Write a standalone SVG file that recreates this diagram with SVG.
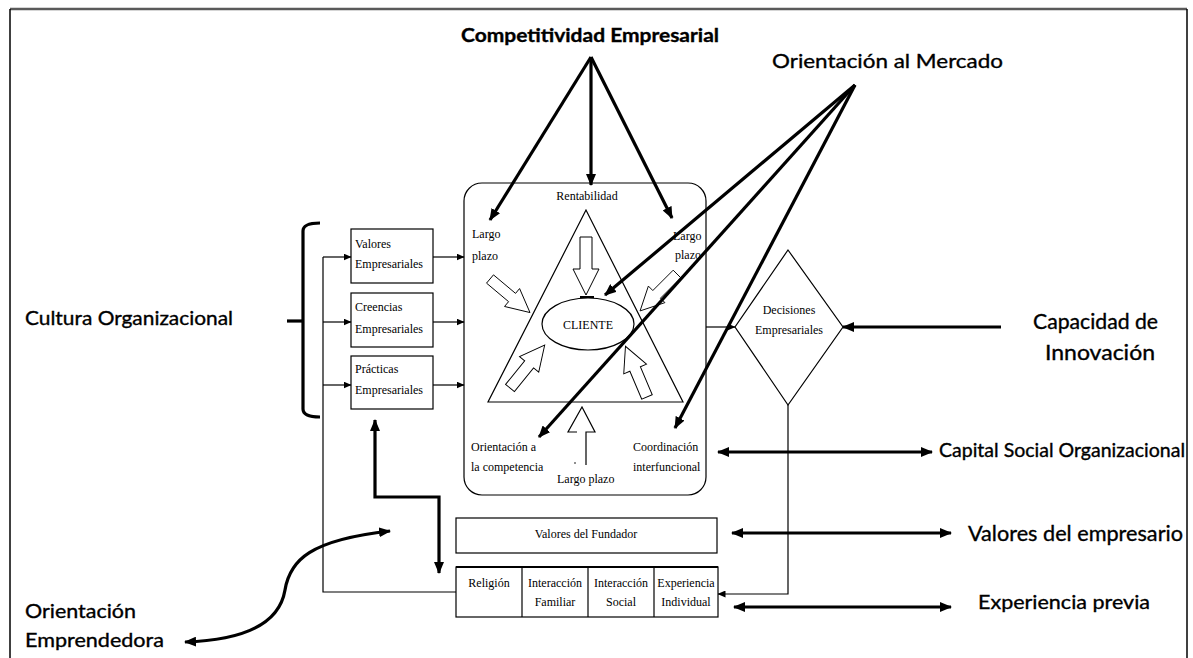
<svg xmlns="http://www.w3.org/2000/svg" width="1193" height="658" viewBox="0 0 1193 658">
  <style>
    .sans { font-family: Lato, "Liberation Sans", sans-serif; fill: #000; stroke: #000; stroke-width: 0.35; }
    .serif { font-family: "Liberation Serif", serif; font-size: 12px; fill: #000; }
    .box { fill: #fff; stroke: #000; stroke-width: 1.2; }
    .thin { fill: none; stroke: #000; stroke-width: 1.2; }
    .thick { fill: none; stroke: #000; stroke-width: 3.2; }
    .blk { fill: #fff; stroke: #000; stroke-width: 1; }
  </style>
  <defs>
    <marker id="ah" viewBox="0 0 12 10" refX="11" refY="5" markerWidth="12" markerHeight="10" markerUnits="userSpaceOnUse" orient="auto-start-reverse">
      <path d="M0,0 L12,5 L0,10 Z" fill="#000"/>
    </marker>
    <marker id="ahs" viewBox="0 0 8 7" refX="7.5" refY="3.5" markerWidth="8" markerHeight="7" markerUnits="userSpaceOnUse" orient="auto-start-reverse">
      <path d="M0,0 L8,3.5 L0,7 Z" fill="#000"/>
    </marker>
    <!-- hollow block arrow pointing along +x, tail at origin -->
    <path id="blkArrow" d="M0,-6 L32,-6 L32,-13 L58,0 L32,13 L32,6 L0,6 Z"/>
  </defs>

  <rect width="1193" height="658" fill="#fff"/>

  <!-- page frame -->
  <g id="frame">
    <line x1="10" y1="9" x2="1187" y2="9" stroke="#5a5a5a" stroke-width="2.5"/>
    <line x1="10" y1="9" x2="10" y2="658" stroke="#000" stroke-width="1.5"/>
    <line x1="1187" y1="9" x2="1187" y2="658" stroke="#000" stroke-width="1.5"/>
  </g>

  <!-- central market-orientation block -->
  <g id="nucleo">
    <rect x="464" y="183" width="242" height="312" rx="18" ry="18" class="box"/>
    <text class="serif" x="587" y="200" text-anchor="middle">Rentabilidad</text>
    <polygon points="586,210 488,402 683,402" class="thin"/>
    <ellipse cx="588" cy="324" rx="46" ry="26" class="thin"/>
    <text class="serif" x="588" y="329" text-anchor="middle">CLIENTE</text>
    <line x1="580" y1="297" x2="594" y2="297" stroke="#000" stroke-width="2"/>
    <use href="#blkArrow" class="blk" transform="translate(586,237) rotate(90)"/>
    <use href="#blkArrow" class="blk" transform="translate(490,279) rotate(40) scale(0.9)"/>
    <use href="#blkArrow" class="blk" transform="translate(677,274) rotate(135) scale(0.9)"/>
    <use href="#blkArrow" class="blk" transform="translate(510,388) rotate(-51) scale(0.95)"/>
    <use href="#blkArrow" class="blk" transform="translate(647,397) rotate(-113) scale(0.95)"/>
    <!-- upward arrow under the base -->
    <polyline points="586,465 586,432 595,432 582,407 568,432 577,432" class="thin" stroke-width="1"/>
    <circle cx="575" cy="463" r="0.8" fill="#000"/>
    <text class="serif" x="472" y="238">Largo</text>
    <text class="serif" x="472" y="260">plazo</text>
    <text class="serif" x="673" y="240">Largo</text>
    <text class="serif" x="675" y="259">plazo</text>
    <text class="serif" x="471" y="451">Orientación a</text>
    <text class="serif" x="471" y="471">la competencia</text>
    <text class="serif" x="557" y="483">Largo plazo</text>
    <text class="serif" x="633" y="451">Coordinación</text>
    <text class="serif" x="633" y="471">interfuncional</text>
  </g>

  <!-- culture boxes -->
  <g id="valores-empresariales">
    <rect x="351" y="229" width="82" height="54" class="box"/>
    <text class="serif" x="355" y="248">Valores</text>
    <text class="serif" x="355" y="268">Empresariales</text>
  </g>
  <g id="creencias-empresariales">
    <rect x="351" y="293" width="82" height="54" class="box"/>
    <text class="serif" x="355" y="311">Creencias</text>
    <text class="serif" x="355" y="333">Empresariales</text>
  </g>
  <g id="practicas-empresariales">
    <rect x="351" y="356" width="82" height="53" class="box"/>
    <text class="serif" x="355" y="373">Prácticas</text>
    <text class="serif" x="355" y="394">Empresariales</text>
  </g>

  <!-- decisions diamond -->
  <g id="decisiones">
    <polygon points="788,250 843,327 788,405 735,327" class="box"/>
    <text class="serif" x="789" y="314" text-anchor="middle">Decisiones</text>
    <text class="serif" x="789" y="334" text-anchor="middle">Empresariales</text>
  </g>

  <!-- founder boxes -->
  <g id="valores-fundador">
    <rect x="456" y="518" width="261" height="35" class="box"/>
    <text class="serif" x="586" y="538" text-anchor="middle">Valores del Fundador</text>
  </g>
  <g id="experiencias">
    <rect x="456" y="567" width="262" height="50" class="box"/>
    <line x1="456" y1="567" x2="718" y2="567" stroke="#000" stroke-width="2.2"/>
    <line x1="522" y1="567" x2="522" y2="617" class="thin"/>
    <line x1="588" y1="567" x2="588" y2="617" class="thin"/>
    <line x1="654" y1="567" x2="654" y2="617" class="thin"/>
    <text class="serif" x="489" y="587" text-anchor="middle">Religión</text>
    <text class="serif" x="555" y="587" text-anchor="middle">Interacción</text>
    <text class="serif" x="555" y="606" text-anchor="middle">Familiar</text>
    <text class="serif" x="621" y="587" text-anchor="middle">Interacción</text>
    <text class="serif" x="621" y="606" text-anchor="middle">Social</text>
    <text class="serif" x="686" y="587" text-anchor="middle">Experiencia</text>
    <text class="serif" x="686" y="606" text-anchor="middle">Individual</text>
  </g>

  <!-- construct labels -->
  <g id="competitividad">
    <text class="sans" x="461" y="42" font-size="19" font-weight="bold" textLength="258" lengthAdjust="spacingAndGlyphs">Competitividad Empresarial</text>
  </g>
  <g id="orientacion-mercado">
    <text class="sans" x="772" y="68" font-size="20" textLength="231" lengthAdjust="spacingAndGlyphs">Orientación al Mercado</text>
  </g>
  <g id="cultura">
    <text class="sans" x="25" y="325" font-size="19" textLength="208" lengthAdjust="spacingAndGlyphs">Cultura Organizacional</text>
  </g>
  <g id="orientacion-emprendedora">
    <text class="sans" x="25" y="618" font-size="19" textLength="111" lengthAdjust="spacingAndGlyphs">Orientación</text>
    <text class="sans" x="25" y="647" font-size="19" textLength="139" lengthAdjust="spacingAndGlyphs">Emprendedora</text>
  </g>
  <g id="capacidad-innovacion">
    <text class="sans" x="1033" y="329" font-size="21" textLength="125" lengthAdjust="spacingAndGlyphs">Capacidad de</text>
    <text class="sans" x="1045" y="360" font-size="21" textLength="110" lengthAdjust="spacingAndGlyphs">Innovación</text>
  </g>
  <g id="capital-social">
    <text class="sans" x="939" y="457" font-size="19" textLength="246" lengthAdjust="spacingAndGlyphs">Capital Social Organizacional</text>
  </g>
  <g id="valores-empresario">
    <text class="sans" x="968" y="541" font-size="22" textLength="215" lengthAdjust="spacingAndGlyphs">Valores del empresario</text>
  </g>
  <g id="experiencia-previa">
    <text class="sans" x="978" y="609" font-size="20" textLength="172" lengthAdjust="spacingAndGlyphs">Experiencia previa</text>
  </g>

  <!-- connectors -->
  <g id="connectors">
    <!-- competitividad -->
    <line x1="591" y1="57" x2="490" y2="220" class="thick" marker-end="url(#ah)"/>
    <line x1="591" y1="57" x2="591" y2="185" class="thick" marker-end="url(#ah)"/>
    <line x1="591" y1="57" x2="672" y2="218" class="thick" stroke-width="2.4" marker-end="url(#ah)"/>
    <!-- orientacion al mercado -->
    <line x1="855" y1="85" x2="605" y2="295" class="thick" marker-end="url(#ah)"/>
    <line x1="855" y1="85" x2="539" y2="437" class="thick" marker-end="url(#ah)"/>
    <line x1="855" y1="85" x2="675" y2="428" class="thick" marker-end="url(#ah)"/>
    <!-- cultura bracket -->
    <path d="M320,223 Q303,223 303,231 L303,409 Q303,417 320,417" class="thick"/>
    <line x1="287" y1="321" x2="303" y2="321" class="thick"/>
    <!-- feedback line into the culture boxes -->
    <polyline points="456,592 323,592 323,257" class="thin"/>
    <line x1="323" y1="257" x2="351" y2="257" class="thin" stroke-width="2" marker-end="url(#ahs)"/>
    <line x1="323" y1="322" x2="351" y2="322" class="thin" marker-end="url(#ahs)"/>
    <line x1="323" y1="385" x2="351" y2="385" class="thin" marker-end="url(#ahs)"/>
    <!-- boxes to central block -->
    <line x1="433" y1="257" x2="464" y2="257" class="thin" stroke-width="2" marker-end="url(#ahs)"/>
    <line x1="433" y1="322" x2="464" y2="322" class="thin" marker-end="url(#ahs)"/>
    <line x1="433" y1="385" x2="464" y2="385" class="thin" marker-end="url(#ahs)"/>
    <!-- central block to decisions -->
    <line x1="706" y1="327" x2="735" y2="327" class="thin" marker-end="url(#ahs)"/>
    <!-- innovation into decisions -->
    <line x1="1001" y1="327" x2="843" y2="327" class="thick" stroke-width="3.5" marker-end="url(#ah)"/>
    <!-- decisions back to experience table -->
    <polyline points="788,405 788,594 718,594" class="thin" marker-end="url(#ahs)"/>
    <!-- practices and founder experience -->
    <path d="M375,420 L375,497 L439,497 L439,573" class="thick" marker-start="url(#ah)" marker-end="url(#ah)"/>
    <!-- entrepreneurial orientation curve -->
    <path d="M185,642 C250,640 280,620 285,590 C290,560 310,540 390,531" class="thick" stroke-width="3.5" marker-start="url(#ah)" marker-end="url(#ah)"/>
    <!-- right-hand double arrows -->
    <line x1="718" y1="452" x2="932" y2="452" class="thick" marker-start="url(#ah)" marker-end="url(#ah)"/>
    <line x1="732" y1="533" x2="951" y2="533" class="thick" marker-start="url(#ah)" marker-end="url(#ah)"/>
    <line x1="734" y1="607" x2="951" y2="607" class="thick" stroke-width="3.6" marker-start="url(#ah)" marker-end="url(#ah)"/>
  </g>
</svg>
